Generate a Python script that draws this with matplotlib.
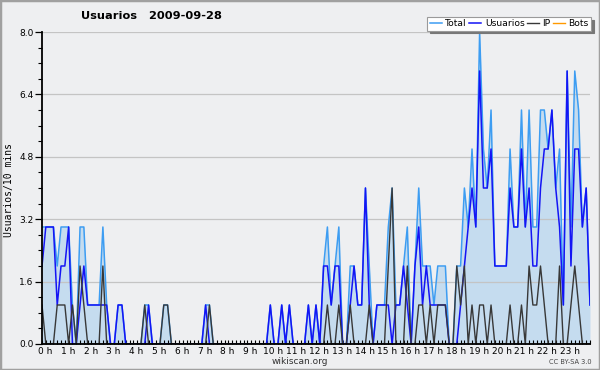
import numpy as np
import matplotlib
matplotlib.use("Agg")
import matplotlib.pyplot as plt
from matplotlib.ticker import MultipleLocator, FixedLocator
from matplotlib.patches import Rectangle
import matplotlib.transforms as mtransforms

# users per 10 minutes, 2009-09-28 (145 samples, 00:00 .. 24:00)
usuarios = [2, 3, 3, 3, 1, 2, 2, 3, 0, 0, 1, 2, 1, 1, 1, 1, 1, 1, 0, 0,
            1, 1, 0, 0, 0, 0, 0, 0, 1, 0, 0, 0, 0, 0, 0, 0, 0, 0, 0, 0,
            0, 0, 0, 1, 0, 0, 0, 0, 0, 0, 0, 0, 0, 0, 0, 0, 0, 0, 0, 0,
            1, 0, 0, 1, 0, 1, 0, 0, 0, 0, 1, 0, 1, 0, 2, 2, 1, 2, 2, 0,
            0, 1, 2, 1, 1, 4, 1, 0, 1, 1, 1, 1, 0, 1, 1, 2, 1, 0, 2, 3,
            1, 2, 1, 1, 1, 1, 1, 0, 0, 0, 1, 2, 3, 4, 3, 7, 4, 4, 5, 2,
            2, 2, 2, 4, 3, 3, 5, 3, 4, 2, 2, 4, 5, 5, 6, 4, 3, 1, 7, 2,
            5, 5, 3, 4, 1]
ip = [1, 0, 0, 0, 1, 1, 1, 0, 1, 0, 2, 1, 0, 0, 0, 0, 2, 0, 0, 0,
      0, 0, 0, 0, 0, 0, 0, 1, 0, 0, 0, 0, 1, 1, 0, 0, 0, 0, 0, 0,
      0, 0, 0, 0, 1, 0, 0, 0, 0, 0, 0, 0, 0, 0, 0, 0, 0, 0, 0, 0,
      0, 0, 0, 0, 0, 0, 0, 0, 0, 0, 0, 0, 0, 0, 0, 1, 0, 0, 1, 0,
      0, 1, 0, 0, 0, 0, 1, 0, 0, 0, 0, 2, 4, 0, 0, 0, 2, 0, 0, 1,
      1, 0, 1, 0, 1, 1, 1, 0, 0, 2, 1, 2, 0, 1, 0, 1, 1, 0, 1, 0,
      0, 0, 0, 1, 0, 0, 1, 0, 2, 1, 1, 2, 1, 0, 0, 0, 2, 0, 0, 1,
      2, 1, 0, 0, 0]
bots = [0] * 145
total = [u + i + b for u, i, b in zip(usuarios, ip, bots)]

hour_labels = ["%d h" % h for h in range(24)]

bg = "#eeeff1"
c_total = "#3d9df2"
c_fill = "#c5dcef"
c_user = "#1414f5"
c_ip = "#383838"
c_bots = "#ff9900"

fig = plt.figure(figsize=(6, 3.7), dpi=100, facecolor=bg)
ax = fig.add_axes([0.07, 0.0703, 0.9133, 0.8432])
ax.set_facecolor(bg)

x = np.arange(len(total)) / 6.0

ax.fill_between(x, total, 0, color=c_fill, zorder=1, lw=0)
ax.plot(x, total, color=c_total, lw=1.1, zorder=3, label="Total")
ax.plot(x, usuarios, color=c_user, lw=1.1, zorder=4, label="Usuarios")
ax.plot(x, ip, color=c_ip, lw=1.0, zorder=5, label="IP")
ax.plot(x, bots, color=c_bots, lw=1.0, zorder=2, label="Bots")

ax.set_xlim(0, 24)
ax.set_ylim(0, 8)

ax.yaxis.set_major_locator(MultipleLocator(1.6))
ax.yaxis.set_minor_locator(MultipleLocator(0.4))
ax.yaxis.set_major_formatter(matplotlib.ticker.FormatStrFormatter("%.1f"))
ax.grid(axis="y", which="major", color="#c4c4c4", lw=0.9)
ax.set_axisbelow(False)
for axis in (ax.xaxis, ax.yaxis):
    axis.set_zorder(2.5)

ax.xaxis.set_major_locator(FixedLocator(range(24)))
ax.xaxis.set_minor_locator(MultipleLocator(1 / 6.0))
ax.set_xticklabels(hour_labels)

ax.tick_params(axis="y", which="major", direction="out", length=5, width=0.9,
               labelsize=6.5, pad=1, colors="black")
ax.tick_params(axis="y", which="minor", direction="out", length=3, width=0.8)
ax.tick_params(axis="x", which="both", direction="in", length=3, width=0.8,
               labelsize=6.5, pad=2)
offset = mtransforms.ScaledTranslation(3 / 100, 0, fig.dpi_scale_trans)
for lab in ax.get_xticklabels():
    lab.set_transform(lab.get_transform() + offset)

for s in ["top", "right"]:
    ax.spines[s].set_visible(False)
for s in ["left", "bottom"]:
    ax.spines[s].set_linewidth(1.3)
    ax.spines[s].set_zorder(6)

fig.text(151 / 600, 1 - 16 / 370, "Usuarios   2009-09-28", ha="center", va="center",
         fontsize=8.2, fontweight="bold")
fig.text(9 / 600, 1 - 190 / 370, "Usuarios/10 mins", rotation=90, ha="center",
         va="center", fontsize=7, family="DejaVu Sans Mono")
fig.text(300 / 600, 1 - 361 / 370, "wikiscan.org", ha="center", va="center",
         fontsize=6.5, color="#333333")
fig.text(592 / 600, 1 - 362 / 370, "CC BY-SA 3.0", ha="right", va="center",
         fontsize=4.8, color="#444444")

leg = ax.legend(loc="upper right", bbox_to_anchor=(591 / 600, 1 - 17 / 370),
                bbox_transform=fig.transFigure, ncol=4, fontsize=6.6,
                handlelength=1.3, handletextpad=0.4, columnspacing=0.25,
                borderpad=0.25, borderaxespad=0, fancybox=False,
                shadow={"color": "#777777", "alpha": 1.0})
leg.get_frame().set_edgecolor("#9a9a9a")
leg.get_frame().set_linewidth(0.8)
leg.set_zorder(10)

fig.patches.append(Rectangle((0, 0), 1, 1, transform=fig.transFigure, fill=False,
                             edgecolor="#a0a0a0", lw=2.5, zorder=20))

fig.savefig("out.png", dpi=100, facecolor=bg)
